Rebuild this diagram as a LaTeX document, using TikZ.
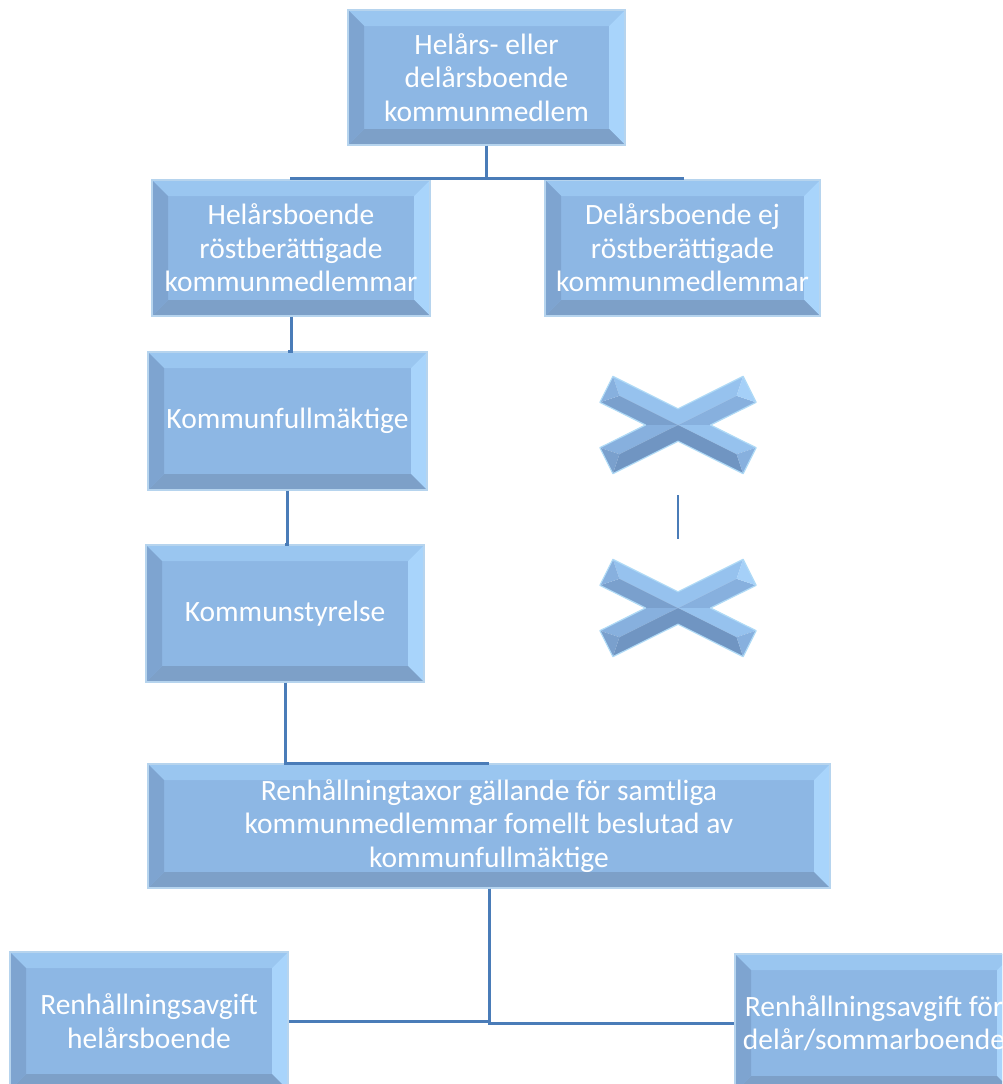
\documentclass[tikz,border=0pt]{standalone}
\usepackage{fontspec}
\setmainfont{Carlito}
\definecolor{bmid}{RGB}{141,183,228}
\definecolor{btop}{RGB}{154,198,240}
\definecolor{bright}{RGB}{168,212,251}
\definecolor{bleft}{RGB}{126,164,208}
\definecolor{bbot}{RGB}{125,160,200}
\definecolor{bedge}{RGB}{182,212,238}
\definecolor{conncol}{RGB}{74,124,184}
\definecolor{xlightest}{RGB}{165,208,248}
\definecolor{xlight}{RGB}{150,194,238}
\definecolor{xmed}{RGB}{135,176,222}
\definecolor{xdark}{RGB}{122,160,205}
\definecolor{xdarkest}{RGB}{112,149,194}
\definecolor{xedge}{RGB}{175,218,246}
\newcommand\bev{16pt}
\newcommand\drawxshape[1]{%
\begin{scope}[shift={#1}]
 % UL arm
 \fill[xlight] (0,0) -- (0,-16.2) -- (-65.1,-48.7) -- (-58.6,-29.2) -- cycle;
 \fill[xdark] (0,0) -- (-32.5,0) -- (-78.1,-22.7) -- (-58.6,-29.2) -- cycle;
 \fill[xmed] (-65.1,-48.7) -- (-78.1,-22.7) -- (-58.6,-29.2) -- cycle;
 % UR arm
 \fill[xlight] (0,0) -- (0,-16.2) -- (65.1,-48.7) -- (58.6,-29.2) -- cycle;
 \fill[xmed] (0,0) -- (32.5,0) -- (78.1,-22.7) -- (58.6,-29.2) -- cycle;
 \fill[xlightest] (65.1,-48.7) -- (78.1,-22.7) -- (58.6,-29.2) -- cycle;
 % LL arm
 \fill[xmed] (0,0) -- (-32.5,0) -- (-78.1,22.7) -- (-58.6,29.2) -- cycle;
 \fill[xdarkest] (0,0) -- (0,16.2) -- (-65.1,48.7) -- (-58.6,29.2) -- cycle;
 \fill[xdark] (-78.1,22.7) -- (-65.1,48.7) -- (-58.6,29.2) -- cycle;
 % LR arm
 \fill[xlight] (0,0) -- (32.5,0) -- (78.1,22.7) -- (58.6,29.2) -- cycle;
 \fill[xdarkest] (0,0) -- (0,16.2) -- (65.1,48.7) -- (58.6,29.2) -- cycle;
 \fill[xmed] (78.1,22.7) -- (65.1,48.7) -- (58.6,29.2) -- cycle;
 % outline
 \draw[xedge, line width=1.2pt, line join=round]
   (0,-16.2) -- (-65.1,-48.7) -- (-78.1,-22.7) -- (-32.5,0) -- (-78.1,22.7)
   -- (-65.1,48.7) -- (0,16.2) -- (65.1,48.7) -- (78.1,22.7) -- (32.5,0)
   -- (78.1,-22.7) -- (65.1,-48.7) -- cycle;
\end{scope}}
\begin{document}
\begin{tikzpicture}[x=1pt,y=-1pt,
  bevbox/.style={rectangle, inner sep=0pt, draw=bedge, line width=1.2pt,
    fill=bmid, text=white, align=center,
    font=\fontsize{29.5}{33.5}\selectfont,
    path picture={
      \path (path picture bounding box.north west) coordinate (pNW)
            (path picture bounding box.north east) coordinate (pNE)
            (path picture bounding box.south west) coordinate (pSW)
            (path picture bounding box.south east) coordinate (pSE);
      \coordinate (iNW) at ([shift={(\bev,-\bev)}]pNW);
      \coordinate (iNE) at ([shift={(-\bev,-\bev)}]pNE);
      \coordinate (iSW) at ([shift={(\bev,\bev)}]pSW);
      \coordinate (iSE) at ([shift={(-\bev,\bev)}]pSE);
      \fill[btop] (pNW) -- (pNE) -- (iNE) -- (iNW) -- cycle;
      \fill[bright] (pNE) -- (pSE) -- (iSE) -- (iNE) -- cycle;
      \fill[bbot] (pSE) -- (pSW) -- (iSW) -- (iSE) -- cycle;
      \fill[bleft] (pSW) -- (pNW) -- (iNW) -- (iSW) -- cycle;
    }},
  conn/.style={draw=conncol, line width=3pt}
]
\clip (0,0) rectangle (1002,1084);
\useasboundingbox (0,0) rectangle (1002,1084);
\fill[white] (0,0) rectangle (1002,1084);

\node[bevbox, minimum width=277pt, minimum height=135pt] (top) at (486.5,77.5)
  {Helårs- eller\\delårsboende\\kommunmedlem};
\node[bevbox, minimum width=278pt, minimum height=136pt] (hel) at (291,248)
  {Helårsboende\\röstberättigade\\kommunmedlemmar};
\node[bevbox, minimum width=275pt, minimum height=136pt] (del) at (682.5,248)
  {Delårsboende ej\\röstberättigade\\kommunmedlemmar};
\node[bevbox, minimum width=279pt, minimum height=138pt] (kf) at (287.5,421)
  {Kommunfullmäktige};
\node[bevbox, minimum width=278pt, minimum height=137pt] (ks) at (285,613.5)
  {Kommunstyrelse};
\node[bevbox, minimum width=682pt, minimum height=124pt] (ren) at (489,826)
  {Renhållningtaxor gällande för samtliga\\kommunmedlemmar fomellt beslutad av\\kommunfullmäktige};
\node[bevbox, minimum width=278pt, minimum height=138pt] (bl) at (149,1021)
  {Renhållningsavgift\\helårsboende};
\node[bevbox, minimum width=278pt, minimum height=138pt] (br) at (874,1023)
  {Renhållningsavgift för\\delår/sommarboende};

\drawxshape{(678,425)}
\drawxshape{(678,608)}
\coordinate (xa) at (678,425);
\coordinate (xb) at (678,608);
\coordinate (xaS) at (678,495);
\coordinate (xbN) at (678,539);

\draw[conn] (top.south) -- ++(0,33) -| (hel.north);
\draw[conn] (top.south) -- ++(0,33) -| (del.north);
\draw[conn] (hel.south) |- (kf.north);
\draw[conn] (kf.south) |- (ks.north);
\draw[conn] (ks.south) |- (ren.north);
\draw[conn] (ren.south) |- (bl.east);
\draw[conn] (ren.south) |- (br.west);
\draw[conn, line width=2.4pt] (xaS) -- (xbN);
\end{tikzpicture}
\end{document}
